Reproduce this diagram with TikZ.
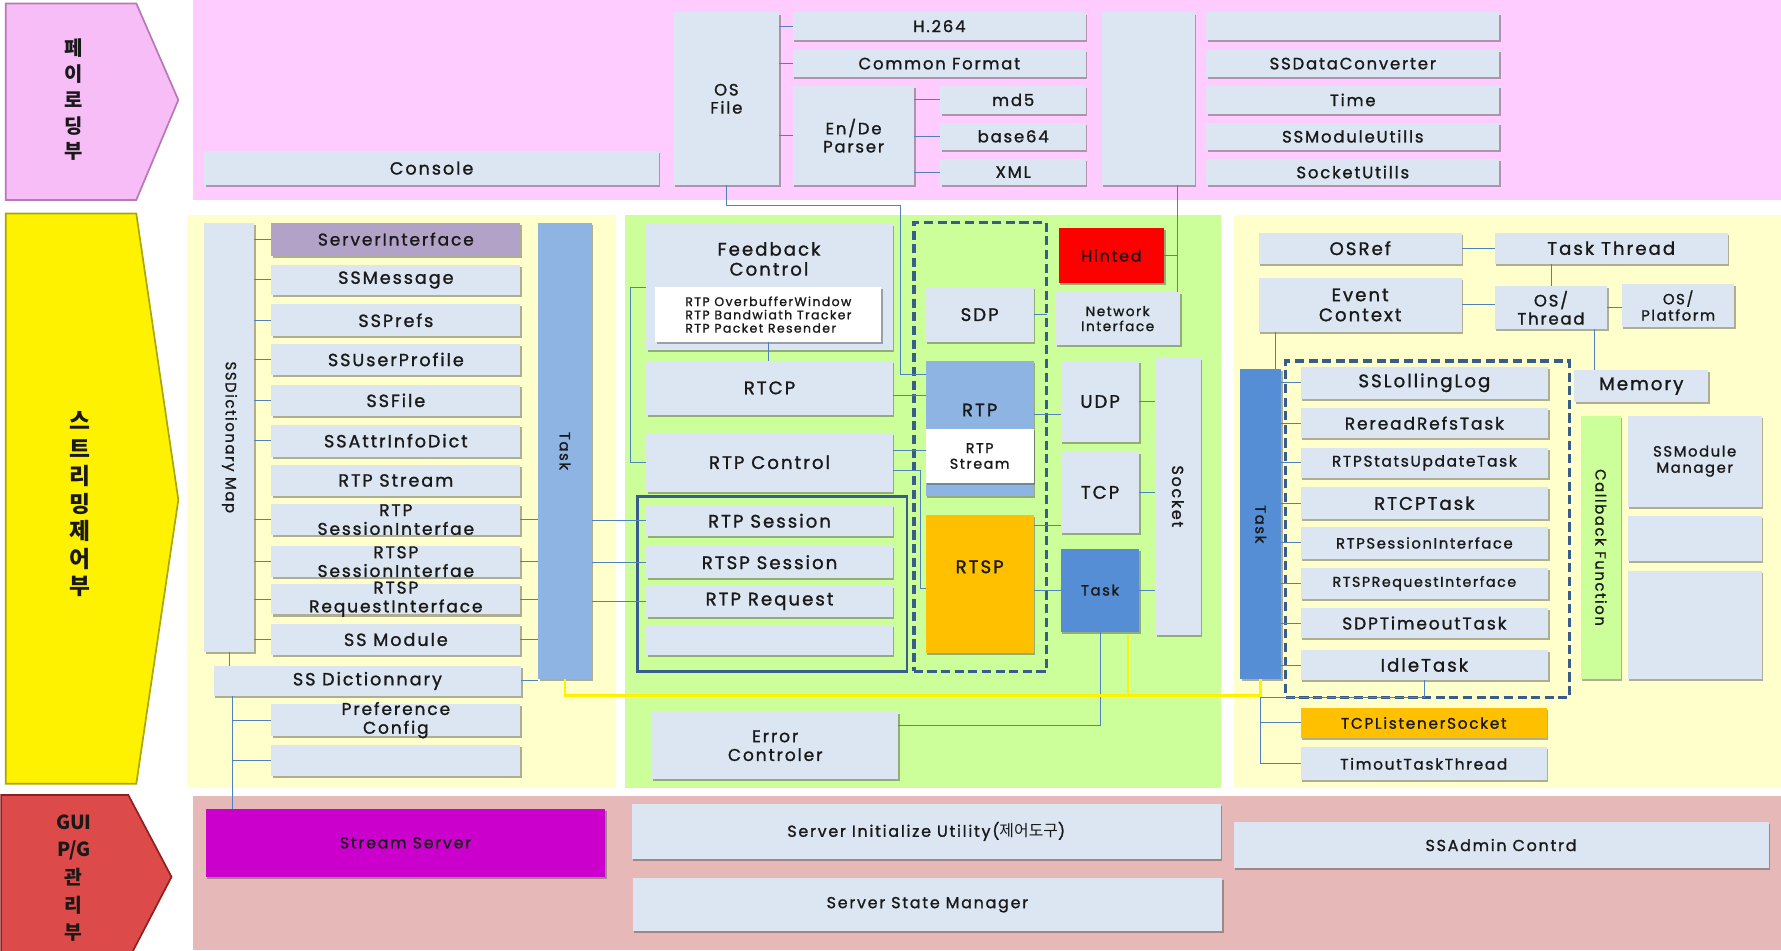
\documentclass[tikz,border=0pt]{standalone}
\usepackage{fontspec}
\setmainfont{Poppins}[LetterSpace=11, FakeBold=1.2]
\newfontfamily\kr{Noto Sans CJK KR}
\usetikzlibrary{shadows,calc}
\definecolor{pinkbg}{HTML}{FFCCFF}
\definecolor{ylbg}{HTML}{FFFFCC}
\definecolor{grbg}{HTML}{CCFF99}
\definecolor{rdbg}{HTML}{E6B9B8}
\definecolor{boxc}{HTML}{DCE6F2}
\definecolor{purp}{HTML}{B3A2C7}
\definecolor{tlight}{HTML}{8EB4E3}
\definecolor{tdark}{HTML}{558ED5}
\definecolor{orng}{HTML}{FFC000}
\definecolor{mag}{HTML}{CC00CC}
\definecolor{lnc}{HTML}{4F81BD}
\definecolor{dshc}{HTML}{385D8A}
\definecolor{cbg}{HTML}{CCFF99}
\definecolor{pinkfl}{HTML}{F6BDF6}
\definecolor{pinkdk}{HTML}{B878B8}
\definecolor{yeldk}{HTML}{A8A800}
\definecolor{redfl}{HTML}{DC4A4A}
\definecolor{reddk}{HTML}{902020}
\newcommand\fs[1]{\fontsize{#1}{#1}\selectfont\baselineskip=1.1\baselineskip}
\tikzset{
  box/.style={fill=boxc, inner sep=0pt, outer sep=0pt,
    drop shadow={shadow xshift=1.2pt, shadow yshift=-1.8pt, opacity=0.45, fill=black!70}},
  btext/.style={inner sep=0pt, outer sep=0pt, align=center, text=black!90},
  ln/.style={draw=lnc, line width=0.9pt},
  yl/.style={draw=yellow, line width=2.4pt},
  dbox/.style={draw=dshc, line width=3pt, dash pattern=on 8pt off 4pt, inner sep=0pt, outer sep=0pt},
}
% [box options]{name}{x1}{y1}{x2}{y2}{font size}{text}
\newcommand\mybox[8][]{%
  \node[box,minimum width=#5pt-#3pt,minimum height=#6pt-#4pt,#1] (#2) at ({(#3+#5)/2},{(#4+#6)/2}) {};
  \node[btext,font=\fs{#7}] (#2-t) at (#2.center) {#8};}
\begin{document}
\begin{tikzpicture}[x=1pt,y=-1pt]
\useasboundingbox (0,0) rectangle (1568,837);
\fill[white] (0,0) rectangle (1568,837);
% bands
\fill[pinkbg] (170,0) rectangle (1568,176);
\fill[ylbg] (165,189) rectangle (542,694);
\fill[grbg] (550,189) rectangle (1075,694);
\fill[ylbg] (1086,189) rectangle (1568,694);
\fill[rdbg] (170,701) rectangle (1568,836);
% chevrons
\filldraw[fill=pinkfl, draw=pinkdk, line width=1.5pt]
  (5,3) -- (120,3) -- (157,88) -- (120,176) -- (5,176) -- cycle;
\filldraw[fill=yellow, draw=yeldk, line width=1.5pt]
  (5,188) -- (120,188) -- (157,440) -- (120,690) -- (5,690) -- cycle;
\filldraw[fill=redfl, draw=reddk, line width=1.5pt]
  (1,700) -- (113,700) -- (151,772) -- (113,845) -- (1,845) -- cycle;
\node[btext,font=\kr\bfseries\fontsize{17.5}{22.7}\selectfont] (a1) at (65,88) {페\\이\\로\\딩\\부};
\node[btext,font=\kr\bfseries\fontsize{20}{24.2}\selectfont] (a2) at (70,444) {스\\트\\리\\밍\\제\\어\\부};
\node[btext,font=\kr\bfseries\fontsize{17}{24.3}\selectfont] (a3) at (65,773) {GUI\\P/G\\관\\리\\부};
% top band
\mybox{console}{180}{133}{580}{163}{15.5}{Console}
\mybox{osfile}{593}{11}{686}{163}{14.5}{OS\\File}
\mybox{h264}{698}{11}{956}{35}{14.5}{H.264}
\mybox{cfmt}{698}{44}{956}{68}{14.5}{Common Format}
\mybox{parser}{698}{76}{805}{163}{14.5}{En/De\\Parser}
\mybox{md5}{828}{76}{956}{100}{14.5}{md5}
\mybox{b64}{828}{108}{956}{132}{14.5}{base64}
\mybox{xml}{828}{140}{956}{163}{14.5}{XML}
\mybox{tall}{970}{11}{1052}{163}{14}{}
\mybox{emptya}{1062}{11}{1320}{35}{14}{}
\mybox{ssdc}{1062}{44}{1320}{68}{14.5}{SSDataConverter}
\mybox{time}{1062}{76}{1320}{100}{14.5}{Time}
\mybox{ssmu}{1062}{108}{1320}{132}{14.5}{SSModuleUtills}
\mybox{sockutil}{1062}{140}{1320}{163}{14.5}{SocketUtills}
% left panel
\mybox{map}{180}{196}{224}{574}{13}{}
\node[btext,rotate=-90,font=\fs{13}] (map-l) at (map) {SSDictionary Map};
\mybox[fill=purp]{si}{239}{196}{458}{225}{15}{ServerInterface}
\mybox{msg}{239}{233}{458}{260}{15.5}{SSMessage}
\mybox{prefs}{239}{268}{458}{296}{15.5}{SSPrefs}
\mybox{prof}{239}{303}{458}{330}{15.5}{SSUserProfile}
\mybox{file}{239}{339}{458}{366}{15.5}{SSFile}
\mybox{attr}{239}{374}{458}{402}{15.5}{SSAttrInfoDict}
\mybox{rstr}{239}{409}{458}{437}{15.5}{RTP Stream}
\mybox{rses}{239}{444}{458}{471}{15}{RTP\\SessionInterfae}
\mybox{rtsps}{239}{481}{458}{508}{15}{RTSP\\SessionInterfae}
\mybox{rtspr}{239}{514}{458}{541}{15}{RTSP\\RequestInterface}
\mybox{ssmod}{239}{549}{458}{577}{15.5}{SS Module}
\mybox{ssd}{188}{586}{459}{613}{15.5}{SS Dictionnary}
\mybox{pref}{239}{620}{458}{648}{15}{Preference\\Config}
\mybox{emptyb}{239}{656}{458}{683}{14}{}
\mybox[fill=tlight]{tleft}{474}{196}{521}{598}{13}{}
\node[btext,rotate=-90,font=\fs{13}] (tleft-l) at (tleft) {Task};
% middle panel
\mybox{fb}{569}{197}{786}{308}{16}{}
\node[btext,font=\fs{16}] (fb-l) at (677,228) {Feedback\\Control};
\mybox[fill=white]{inner}{577}{253}{776}{301}{11}{}
\node[btext,align=left,font=\fontsize{11}{11.7}\selectfont] (inner-l) at (inner) {RTP OverbufferWindow\\RTP Bandwiath Tracker\\RTP Packet Resender};
\mybox{rtcp}{569}{318}{786}{365}{16}{RTCP}
\mybox{rtpc}{569}{381}{786}{433}{16}{RTP Control}
\node[draw=dshc, line width=2.5pt, minimum width=237pt, minimum height=154pt, inner sep=0pt] (grp) at (680,514) {};
\mybox{rtpses}{569}{445}{786}{472}{16}{RTP Session}
\mybox{rtspses}{569}{481}{786}{509}{16}{RTSP Session}
\mybox{rtpreq}{569}{516}{786}{543}{16}{RTP Request}
\mybox{emptyc}{569}{550}{786}{577}{14}{}
\node[dbox, minimum width=117pt, minimum height=395pt] (dashm) at (863,393.5) {};
\mybox{sdp}{815}{253}{910}{301}{16}{SDP}
\mybox[fill=tlight]{rtp}{815}{318}{910}{437}{16}{}
\node[btext,font=\fs{16}] (rtp-l) at (862.5,361) {RTP};
\mybox[fill=white]{rtps}{815}{378}{910}{425}{12.5}{RTP\\Stream}
\mybox[fill=orng]{rtsp}{815}{453}{910}{575}{16}{}
\node[btext,font=\fs{16}] (rtsp-l) at (862.5,499) {RTSP};
\mybox[fill=red]{hinted}{932}{201}{1025}{249}{14}{Hinted}
\mybox{ni}{929}{257}{1039}{304}{12}{Network\\Interface}
\mybox{udp}{934}{318}{1003}{389}{16}{UDP}
\mybox{tcp}{934}{398}{1003}{469}{16}{TCP}
\mybox[fill=tdark]{tmid}{934}{483}{1003}{556}{13}{Task}
\mybox{socket}{1017}{315}{1057}{559}{14}{}
\node[btext,rotate=-90,font=\fs{14}] (socket-l) at (socket) {Socket};
\mybox{errc}{574}{627}{791}{686}{15}{Error\\Controler}
% right panel
\mybox{osref}{1108}{205}{1287}{232}{16}{OSRef}
\mybox{tthr}{1316}{205}{1521}{232}{16}{Task Thread}
\mybox{evt}{1108}{245}{1287}{292}{16}{Event\\Context}
\mybox{osthr}{1316}{252}{1415}{290}{14.5}{OS/\\Thread}
\mybox{osplat}{1428}{250}{1527}{288}{13}{OS/\\Platform}
\mybox{mem}{1386}{326}{1504}{354}{16}{Memory}
\mybox[fill=tdark]{tright}{1092}{325}{1128}{598}{13}{}
\node[btext,rotate=-90,font=\fs{13}] (tright-l) at (tright) {Task};
\node[dbox, minimum width=250pt, minimum height=296pt] (dashr) at (1257,466) {};
\mybox{ll}{1145}{323}{1363}{351}{16}{SSLollingLog}
\mybox{rr}{1145}{359}{1363}{386}{15}{RereadRefsTask}
\mybox{rsu}{1145}{394}{1363}{421}{13.5}{RTPStatsUpdateTask}
\mybox{rtcpt}{1145}{429}{1363}{457}{16}{RTCPTask}
\mybox{rsi}{1145}{464}{1363}{492}{13}{RTPSessionInterface}
\mybox{rri}{1145}{500}{1363}{527}{12.5}{RTSPRequestInterface}
\mybox{sdpt}{1145}{535}{1363}{562}{15}{SDPTimeoutTask}
\mybox{idle}{1145}{572}{1363}{599}{16}{IdleTask}
\mybox[fill=orng]{tcpl}{1145}{623}{1362}{650}{13.5}{TCPListenerSocket}
\mybox{ttt}{1145}{658}{1362}{687}{13.5}{TimoutTaskThread}
\mybox[fill=cbg]{cb}{1392}{366}{1427}{598}{13}{}
\node[btext,rotate=-90,font=\fs{13}] (cb-l) at (cb) {Callback Function};
\mybox{ssmm}{1433}{366}{1551}{446}{13}{SSModule\\Manager}
\mybox{emptyd}{1433}{454}{1551}{494}{13}{}
\mybox{emptye}{1433}{503}{1551}{598}{13}{}
% bottom band
\mybox[fill=mag]{ss}{181}{712}{533}{772}{14}{Stream Server}
\mybox{sinit}{556}{708}{1075}{756}{14}{Server Initialize Utility({\kr 제어도구})}
\mybox{sstate}{557}{773}{1076}{820}{14}{Server State Manager}
\mybox{admin}{1086}{724}{1557}{764}{14}{SSAdmin Contrd}
% ---- connectors: top
\draw[ln] (osfile.east|-h264) -- (h264.west);
\draw[ln] (osfile.east|-cfmt) -- (cfmt.west);
\draw[ln] (osfile.east|-parser) -- (parser.west);
\draw[ln] (parser.east|-md5) -- (md5.west);
\draw[ln] (parser.east|-b64) -- (b64.west);
\draw[ln] (parser.east|-xml) -- (xml.west);
\coordinate (k1) at (793,181);
\coordinate (k2) at (793,330);
\draw[ln] (osfile.south) |- (k1) -- (k2) -- (k2-|rtp.west);
\coordinate (k3) at (1037,163);
\draw[ln] (k3) -- (k3|-ni.north);
\draw[ln] (hinted.east) -- (hinted.east-|k3);
% left
\foreach \n in {si,msg,prefs,prof,file,attr,rses,rtsps,rtspr,ssmod}
  \draw[ln] (map.east|-\n.west) -- (\n.west);
\draw[ln] (map.south) -- (map.south|-ssd.north);
\coordinate (q4) at ($(ssd.south west)+(17,0)$);
\draw[ln] (q4) -- (q4|-ss.north);
\draw[ln] (q4|-pref.west) -- (pref.west);
\draw[ln] (q4|-emptyb.west) -- (emptyb.west);
\foreach \n in {rses,rtsps,rtspr,ssmod,ssd}
  \draw[ln] (\n.east) -- (\n.east-|tleft.west);
\foreach \n in {rtpses,rtspses,rtpreq}
  \draw[ln] (tleft.east|-\n.west) -- (\n.west);
% middle
\draw[ln] (fb.west|-inner.north) -- ++(-14,0) |- (rtpc.west);
\draw[ln] (inner.south) -- (inner.south|-rtcp.north);
\coordinate (m1) at ($(rtcp.east)+(0,7)$);
\draw[ln] (m1) -- (m1-|rtp.west);
\coordinate (m2) at ($(rtps.west)+(0,-5)$);
\draw[ln] (m2-|rtpc.east) -- (m2);
\coordinate (m3) at ($(rtpc.east)+(0,7)$);
\coordinate (m4) at ($(rtsp.west)+(0,4.5)$);
\draw[ln] (m3) -- ++(24,0) |- (m4);
\draw[ln] (sdp.east) -- (sdp.east-|dashm.east);
\coordinate (q1) at ($(udp.west)+(0,11)$);
\draw[ln] (q1) -- (q1-|rtp.east);
\coordinate (q2) at ($(tcp.west)+(0,29)$);
\draw[ln] (q2) -- (q2-|rtsp.east);
\draw[ln] (tmid.west) -- (tmid.west-|rtsp.east);
\draw[ln] (udp.east) -- (udp.east-|socket.west);
\draw[ln] (tcp.east) -- (tcp.east-|socket.west);
\draw[ln] (tmid.east) -- (tmid.east-|socket.west);
\coordinate (q3) at ($(errc.east)+(0,-17.5)$);
\draw[ln] (tmid.south) |- (q3);
% right
\draw[ln] (osref.east) -- (osref.east-|tthr.west);
\draw[ln] (osthr.north) -- (osthr.north|-tthr.south);
\draw[ln] (evt.east) -- (evt.east-|osthr.west);
\draw[ln] (osthr.east) -- (osthr.east-|osplat.west);
\coordinate (q6) at ($(osthr.south east)+(-11,0)$);
\draw[ln] (q6) -- (q6|-mem.north);
\coordinate (q7) at ($(evt.south west)+(15,0)$);
\draw[ln] (q7) -- (q7|-tright.north);
\foreach \n in {ll,rr,rsu,rtcpt,rsi,rri,sdpt,idle}
  \draw[ln] (tright.east|-\n.west) -- (\n.west);
\draw[ln] (idle.south) -- (idle.south|-dashr.south) -- (tright.south|-dashr.south) -- (tright.south|-ttt.west) -- (ttt.west);
\draw[ln] (tright.south|-tcpl.west) -- (tcpl.west);
% yellow
\coordinate (yh) at ($(tleft.south)+(0,14)$);
\draw[yl] (tleft.south) -- (yh) -| (tright.south);
\coordinate (q5) at ($(tmid.south east)+(-10,3)$);
\draw[yl] (q5) -- (q5|-yh);
\end{tikzpicture}
\end{document}
